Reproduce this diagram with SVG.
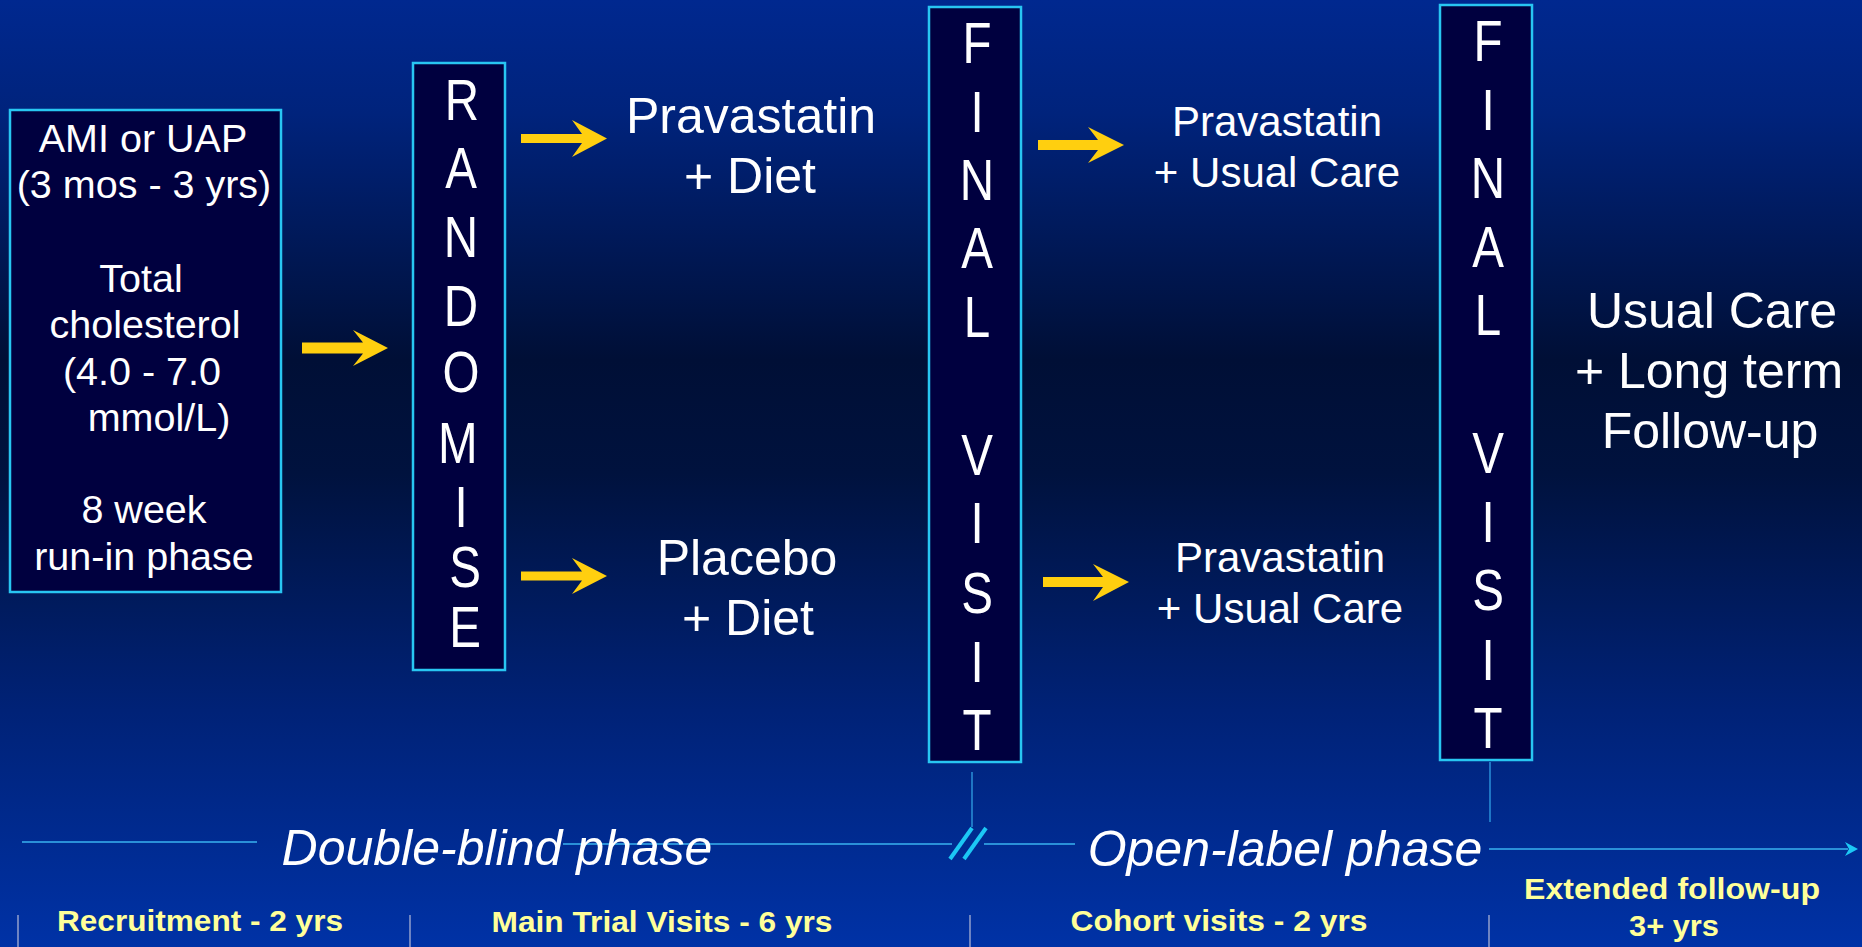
<svg xmlns="http://www.w3.org/2000/svg" width="1862" height="947" viewBox="0 0 1862 947">
<defs>
<linearGradient id="bg" x1="0" y1="0" x2="0" y2="1">
<stop offset="0" stop-color="#00288f"/>
<stop offset="0.12" stop-color="#00237c"/>
<stop offset="0.38" stop-color="#000f36"/>
<stop offset="0.5" stop-color="#00123e"/>
<stop offset="0.75" stop-color="#002277"/>
<stop offset="1" stop-color="#0032a6"/>
</linearGradient>
<style>
.box{fill:#00003f;stroke:#28c6f2;stroke-width:2.5}
.t{font-family:"Liberation Sans",Arial,sans-serif;fill:#ffffff;text-anchor:middle}
.lb{font-size:39.5px}
.big{font-size:50px}
.mid{font-size:42px}
.let{font-size:58px}
.ph{font-size:50px;font-style:italic}
.yl{font-family:"Liberation Sans",Arial,sans-serif;fill:#ffff99;font-weight:bold;font-size:29px;text-anchor:middle}
.arr{fill:#ffcf0f}
.tl{stroke:#2a90d8;stroke-width:2;fill:none}
.tick{stroke:#b8bcd8;stroke-width:1.2}
.sl{stroke:#1cc8f5;stroke-width:4;stroke-linecap:butt}
</style>
</defs>
<rect x="0" y="0" width="1862" height="947" fill="url(#bg)"/>

<g id="entry">
<rect class="box" x="10" y="110" width="271" height="482"/>
<text class="t lb" x="143" y="152">AMI or UAP</text>
<text class="t lb" x="144" y="198">(3 mos - 3 yrs)</text>
<text class="t lb" x="141" y="292">Total</text>
<text class="t lb" x="145" y="338">cholesterol</text>
<text class="t lb" x="142" y="385">(4.0 - 7.0</text>
<text class="t lb" x="159" y="431">mmol/L)</text>
<text class="t lb" x="144" y="523">8 week</text>
<text class="t lb" x="144" y="570">run-in phase</text>
</g>

<g id="randomise">
<rect class="box" x="413" y="63" width="92" height="607"/>
<g transform="translate(461,0) scale(0.82,1)">
<text class="t let" x="1" y="120">R</text>
<text class="t let" x="0" y="188">A</text>
<text class="t let" x="0" y="257">N</text>
<text class="t let" x="0" y="326">D</text>
<text class="t let" x="0" y="392">O</text>
<text class="t let" x="-4" y="463">M</text>
<text class="t let" x="0" y="527">I</text>
<text class="t let" x="5" y="587">S</text>
<text class="t let" x="5" y="647">E</text>
</g>
</g>

<g id="prava-diet">
<text class="t big" x="751" y="133">Pravastatin</text>
<text class="t big" x="750" y="193">+ Diet</text>
</g>

<g id="placebo-diet">
<text class="t big" x="747" y="575">Placebo</text>
<text class="t big" x="748" y="635">+ Diet</text>
</g>

<g id="final-visit-1">
<rect class="box" x="929" y="7" width="92" height="755"/>
<g transform="translate(977,0) scale(0.82,1)">
<text class="t let" x="0" y="63">F</text>
<text class="t let" x="0" y="132">I</text>
<text class="t let" x="0" y="200">N</text>
<text class="t let" x="0" y="268">A</text>
<text class="t let" x="0" y="337">L</text>
<text class="t let" x="0" y="475">V</text>
<text class="t let" x="0" y="543">I</text>
<text class="t let" x="0" y="613">S</text>
<text class="t let" x="0" y="682">I</text>
<text class="t let" x="0" y="750">T</text>
</g>
</g>

<g id="prava-usual-1">
<text class="t mid" x="1277" y="136">Pravastatin</text>
<text class="t mid" x="1277" y="187">+ Usual Care</text>
</g>

<g id="prava-usual-2">
<text class="t mid" x="1280" y="572">Pravastatin</text>
<text class="t mid" x="1280" y="623">+ Usual Care</text>
</g>

<g id="final-visit-2">
<rect class="box" x="1440" y="5" width="92" height="755"/>
<g transform="translate(1488,0) scale(0.82,1)">
<text class="t let" x="0" y="61">F</text>
<text class="t let" x="0" y="130">I</text>
<text class="t let" x="0" y="198">N</text>
<text class="t let" x="0" y="267">A</text>
<text class="t let" x="0" y="335">L</text>
<text class="t let" x="0" y="473">V</text>
<text class="t let" x="0" y="542">I</text>
<text class="t let" x="0" y="610">S</text>
<text class="t let" x="0" y="680">I</text>
<text class="t let" x="0" y="748">T</text>
</g>
</g>

<g id="usual-care-long-term">
<text class="t big" x="1712" y="328">Usual Care</text>
<text class="t big" x="1709" y="388">+ Long term</text>
<text class="t big" x="1710" y="448">Follow-up</text>
</g>

<g id="connectors">
<polygon class="arr" points="302,342.5 363,342.5 353,330 388,348 353,366 363,353.5 302,353.5"/>
<polygon class="arr" points="521,134 582,134 572,120 607,138.5 572,157 582,143 521,143"/>
<polygon class="arr" points="521,571.5 582,571.5 572,558 607,576 572,594 582,580.5 521,580.5"/>
<polygon class="arr" points="1038,140 1098,140 1088,127 1124,145 1088,163 1098,150 1038,150"/>
<polygon class="arr" points="1043,577 1103,577 1093,564 1129,582 1093,601 1103,587 1043,587"/>
</g>

<g id="timeline">
<line class="tl" x1="22" y1="842" x2="257" y2="842"/>
<line class="tl" x1="563" y1="844" x2="952" y2="844"/>
<line class="tl" x1="984" y1="844" x2="1075" y2="844"/>
<line class="tl" x1="1489" y1="849" x2="1848" y2="849"/>
<polygon points="1845,842 1858,849 1845,856 1849,849" fill="#1cc8f5"/>
<line stroke="#2a90d8" stroke-width="1.5" x1="972" y1="772" x2="972" y2="827"/>
<line stroke="#2a90d8" stroke-width="1.5" x1="1490" y1="762" x2="1490" y2="822"/>
<line class="sl" x1="950" y1="859" x2="972" y2="828"/>
<line class="sl" x1="964" y1="859" x2="986" y2="828"/>
<text class="t ph" x="497" y="865">Double-blind phase</text>
<text class="t ph" x="1285" y="866">Open-label phase</text>
</g>

<g id="periods">
<line class="tick" x1="18" y1="915" x2="18" y2="947"/>
<line class="tick" x1="410" y1="915" x2="410" y2="947"/>
<line class="tick" x1="970" y1="915" x2="970" y2="947"/>
<line class="tick" x1="1489" y1="915" x2="1489" y2="947"/>
<text class="yl" x="200" y="931" textLength="286" lengthAdjust="spacingAndGlyphs">Recruitment - 2 yrs</text>
<text class="yl" x="662" y="932" textLength="341" lengthAdjust="spacingAndGlyphs">Main Trial Visits - 6 yrs</text>
<text class="yl" x="1219" y="931" textLength="297" lengthAdjust="spacingAndGlyphs">Cohort visits - 2 yrs</text>
<text class="yl" x="1672" y="899" textLength="296" lengthAdjust="spacingAndGlyphs">Extended follow-up</text>
<text class="yl" x="1674" y="936" textLength="90" lengthAdjust="spacingAndGlyphs">3+ yrs</text>
</g>
</svg>
